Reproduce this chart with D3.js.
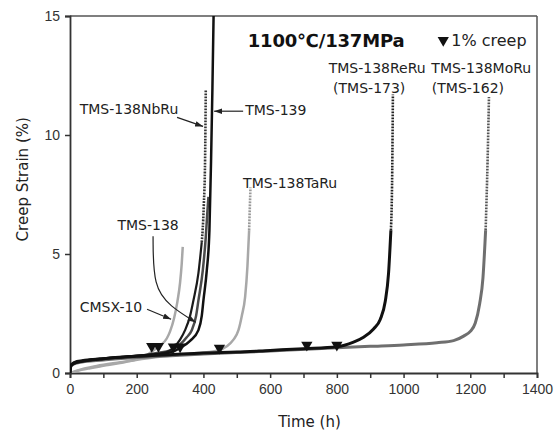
<!DOCTYPE html>
<html>
<head>
<meta charset="utf-8">
<script src="https://cdn.jsdelivr.net/npm/d3@7"></script>
<style>
  body { margin: 0; background: #fff; }
  svg { font-family: "DejaVu Sans", sans-serif; }
  .tick text { font-family: "Liberation Sans", Arial, sans-serif; font-size: 14px; fill: #333; }
  .note { font-size: 14px; fill: #222; }
</style>
</head>
<body>
<svg width="559" height="433"></svg>
<script>
// Creep curves: [time (h), creep strain (%)]
const cmsx10 = [[0,0],[20,0.08],[60,0.2],[100,0.3],[150,0.42],[200,0.57],[230,0.74],[250,0.95],[270,1.15],[290,1.45],[300,1.75],[312,2.3],[322,3.0],[330,3.8],[335,4.6],[338,5.3]];
const tms138 = [[0,0],[3,0.3],[20,0.45],[100,0.58],[200,0.7],[265,0.85],[300,0.95],[330,1.2],[350,1.5],[365,1.8],[378,2.4],[385,3.05],[398,4.3],[407,5.7],[412,6.8],[415,7.4]];
const tms138NbRu = [[0,0],[3,0.35],[20,0.5],[100,0.62],[200,0.72],[280,0.85],[310,1.05],[330,1.4],[345,1.8],[360,2.4],[370,3.05],[385,4.2],[395,5.5],[401,7],[405,9],[407,11.9]];
const tms139 = [[0,0],[3,0.3],[20,0.45],[100,0.6],[200,0.72],[300,0.86],[330,1.05],[360,1.35],[385,1.8],[395,2.4],[400,3.05],[410,4.3],[418,6],[423,9],[427,12],[431,15.5]];
const tms138TaRu = [[0,0],[20,0.1],[80,0.3],[150,0.45],[250,0.65],[350,0.8],[445,0.95],[470,1.12],[490,1.4],[505,1.8],[515,2.4],[525,3.2],[532,4.5],[537,6],[541,7.8]];
const tms138ReRu = [[0,0],[2,0.3],[10,0.4],[50,0.52],[100,0.6],[200,0.7],[300,0.77],[400,0.84],[500,0.88],[600,0.95],[700,1.02],[800,1.1],[850,1.3],[880,1.5],[910,1.85],[930,2.25],[945,3.0],[955,4.2],[962,6],[966,8.5],[968,11.7]];
const tms138MoRu = [[0,0],[3,0.3],[20,0.42],[100,0.55],[200,0.65],[400,0.8],[600,0.92],[708,1.0],[800,1.06],[900,1.12],[1000,1.18],[1100,1.27],[1150,1.36],[1180,1.55],[1200,1.75],[1215,2.1],[1228,2.9],[1238,4.0],[1246,6],[1252,9],[1256,11.6]];

// 1% creep markers
const creepTimes = [245, 265, 310, 330, 448, 710, 800];
const creepStrain = [1.12, 1.12, 1.1, 1.1, 1.05, 1.18, 1.18];

const xTicks = [0, 200, 400, 600, 800, 1000, 1200, 1400];
const xMinor = [100, 300, 500, 700, 900, 1100, 1300];
const yTicks = [0, 5, 10, 15];

const series = [
  { data: cmsx10, color: "#a8a8a8", dot: "#999", w: 2.5, dotFrom: 99 },
  { data: tms138TaRu, color: "#a8a8a8", dot: "#999", w: 2.5, dotFrom: 6 },
  { data: tms138MoRu, color: "#6f6f6f", dot: "#555", w: 3, dotFrom: 6 },
  { data: tms138, color: "#4a4a4a", dot: "#4a4a4a", w: 2.5, dotFrom: 99 },
  { data: tms138NbRu, color: "#1a1a1a", dot: "#333", w: 2.2, dotFrom: 6 },
  { data: tms139, color: "#111", dot: "#111", w: 2.5, dotFrom: 99 },
  { data: tms138ReRu, color: "#111", dot: "#222", w: 3, dotFrom: 6.5 }
];

const margin = {top: 16, right: 22, bottom: 60, left: 70};
const svg = d3.select("svg");
const width = 559 - margin.left - margin.right;
const height = 433 - margin.top - margin.bottom;

const x = d3.scaleLinear().domain([0, 1400]).range([0, width]);
const y = d3.scaleLinear().domain([0, 15]).range([height, 0]);

const g = svg.append("g").attr("transform", `translate(${margin.left},${margin.top})`);

svg.append("defs").append("clipPath").attr("id", "clip")
  .append("rect").attr("width", width).attr("height", height);
svg.select("defs").append("marker")
  .attr("id", "arr").attr("viewBox", "0 0 10 10").attr("refX", 10).attr("refY", 5)
  .attr("markerWidth", 8).attr("markerHeight", 8).attr("orient", "auto-start-reverse")
  .attr("markerUnits", "userSpaceOnUse")
  .append("path").attr("d", "M0,1.5L10,5L0,8.5z").attr("fill", "#222");

// frame (top and right)
g.append("line").attr("x1", 0).attr("x2", width).attr("y1", 0).attr("y2", 0)
  .attr("stroke", "#555").attr("stroke-width", 1.5);
g.append("line").attr("x1", width).attr("x2", width).attr("y1", 0).attr("y2", height)
  .attr("stroke", "#555").attr("stroke-width", 1.5);

// axes
g.append("g").attr("transform", `translate(0,${height})`)
  .call(d3.axisBottom(x).tickValues(xTicks).tickSize(5).tickPadding(6).tickFormat(d3.format("d")));
g.append("g").attr("transform", `translate(0,${height})`)
  .call(d3.axisBottom(x).tickValues(xMinor).tickSize(5).tickFormat(""))
  .select(".domain").remove();
g.append("g")
  .call(d3.axisLeft(y).tickValues(yTicks).tickSize(5).tickPadding(5));
g.selectAll(".domain").attr("stroke", "#333").attr("stroke-width", 1.8);
g.selectAll(".tick line").attr("stroke", "#333").attr("stroke-width", 1.5);

// curves
const line = d3.line().x(d => x(d[0])).y(d => y(d[1])).curve(d3.curveMonotoneX);
const plot = g.append("g").attr("clip-path", "url(#clip)");
series.forEach(s => {
  const solid = s.data.filter(d => d[1] <= s.dotFrom);
  const k = solid.length;
  plot.append("path").datum(solid).attr("d", line)
    .attr("fill", "none").attr("stroke", s.color).attr("stroke-width", s.w)
    .attr("stroke-linejoin", "round");
  if (k < s.data.length) {
    plot.append("path").datum(s.data.slice(k - 1)).attr("d", line)
      .attr("fill", "none").attr("stroke", s.dot).attr("stroke-width", 2.6)
      .attr("stroke-dasharray", "1.8 1.2");
  }
});

// 1% creep markers
const tri = d3.symbol().type(d3.symbolTriangle).size(55);
g.selectAll(".creep").data(creepTimes).enter().append("path")
  .attr("class", "creep")
  .attr("d", tri)
  .attr("transform", (d, i) => `translate(${x(d)},${y(creepStrain[i])}) rotate(180)`)
  .attr("fill", "#111");

// axis titles
g.append("text").attr("x", x(718)).attr("y", height + 54)
  .attr("text-anchor", "middle").attr("font-size", 15).attr("fill", "#222").text("Time (h)");
g.append("text").attr("transform", `translate(-42,${y(8.14)}) rotate(-90)`)
  .attr("text-anchor", "middle").attr("font-size", 15).attr("fill", "#222").text("Creep Strain (%)");

// title and legend
g.append("text").attr("x", x(768)).attr("y", y(13.98) + 6.5)
  .attr("text-anchor", "middle").attr("font-size", 18).attr("font-weight", "bold")
  .attr("textLength", 157).attr("fill", "#111").text("1100℃/137MPa");
g.append("path").attr("d", tri)
  .attr("transform", `translate(${x(1119)},${y(13.98)}) rotate(180)`).attr("fill", "#111");
g.append("text").attr("x", x(1143)).attr("y", y(13.98) + 5.5)
  .attr("font-size", 16).attr("fill", "#222").text("1% creep");

// labels
const note = (t, s, txt, anchor) => g.append("text").attr("class", "note")
  .attr("x", x(t)).attr("y", y(s) + 5).attr("text-anchor", anchor || "middle").text(txt);
note(921, 12.8, "TMS-138ReRu");
note(897, 11.96, "(TMS-173)");
note(1233, 12.8, "TMS-138MoRu");
note(1193, 11.96, "(TMS-162)");
note(525, 11.03, "TMS-139", "start");
note(177, 11.1, "TMS-138NbRu");
note(660, 8.0, "TMS-138TaRu");
note(234, 6.2, "TMS-138");
note(123, 2.76, "CMSX-10");

const arrow = pts => g.append("path").attr("d", d3.line().x(d => x(d[0])).y(d => y(d[1]))(pts))
  .attr("fill", "none").attr("stroke", "#222").attr("stroke-width", 1.2).attr("marker-end", "url(#arr)");
arrow([[519, 11.0], [432, 11.0]]);
arrow([[321, 10.74], [399, 10.36]]);
arrow([[231, 2.68], [303, 2.26]]);
g.append("path").attr("d", d3.line().x(d => x(d[0])).y(d => y(d[1])).curve(d3.curveBasis)(
    [[249, 5.75], [250, 3.6], [300, 2.8], [377, 2.13]]))
  .attr("fill", "none").attr("stroke", "#222").attr("stroke-width", 1.2).attr("marker-end", "url(#arr)");
</script>
</body>
</html>
